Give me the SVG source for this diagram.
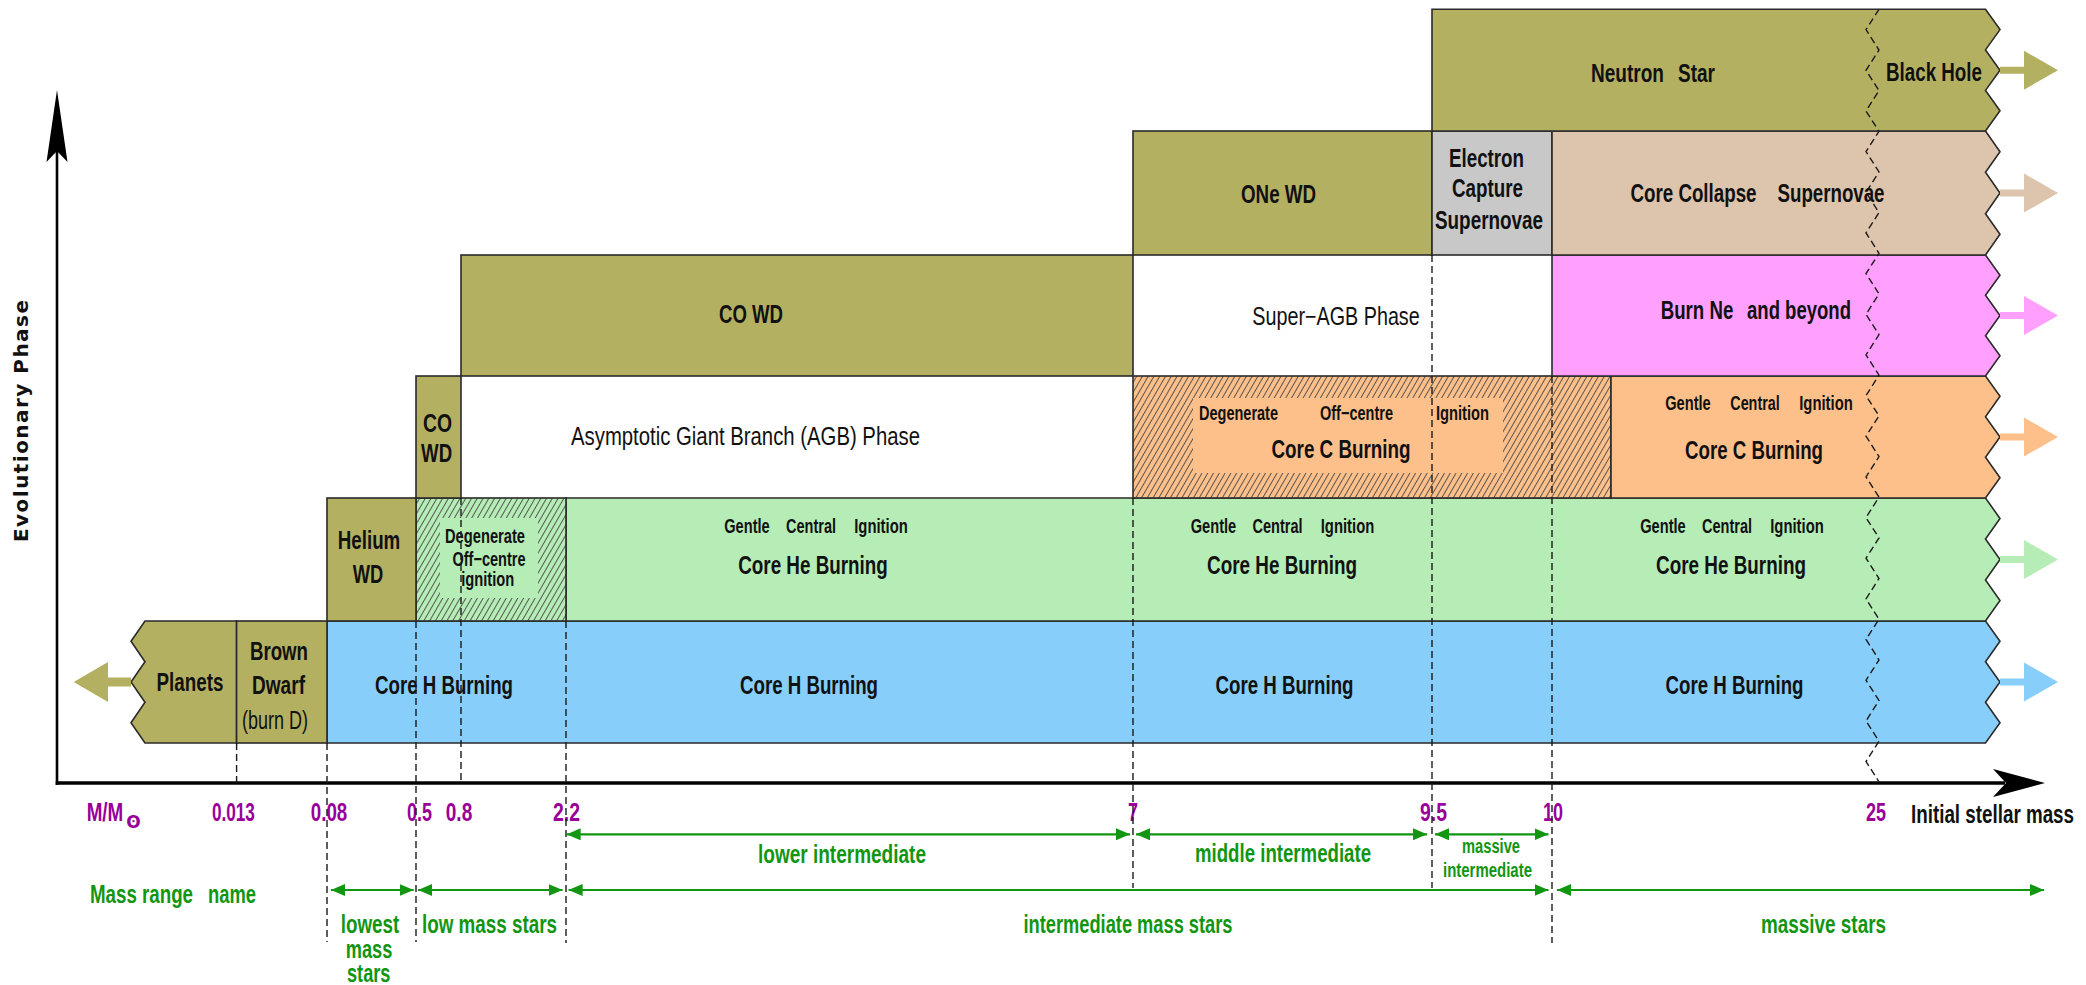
<svg xmlns="http://www.w3.org/2000/svg" width="2086" height="985" viewBox="0 0 2086 985">
<style>
.t{font-family:"Liberation Sans Narrow","Liberation Sans",Arial,sans-serif;font-weight:bold;font-size:25px;fill:#111;text-anchor:middle}
.s{font-size:20px}
.n{font-weight:normal}
.p{fill:#990099}
.g{fill:#129612}
.box{stroke:#2a2a2a;stroke-width:1.6}
.ol{fill:#b4b062}
.dash{stroke:#1a1a1a;stroke-width:1.4;stroke-dasharray:7,4;fill:none}
.garr{stroke:#129612;stroke-width:2.2;fill:none;marker-start:url(#ga);marker-end:url(#ga)}
</style>
<defs>
<pattern id="hatch" patternUnits="userSpaceOnUse" width="5" height="10" patternTransform="rotate(30)">
<line x1="2.5" y1="-1" x2="2.5" y2="11" stroke="#4a4a4a" stroke-width="0.9"/>
</pattern>
<marker id="ga" viewBox="0 0 14 12" refX="14" refY="6" markerWidth="14" markerHeight="12" markerUnits="userSpaceOnUse" orient="auto-start-reverse">
<path d="M0,0 L14,6 L0,12 Z" fill="#129612"/>
</marker>
</defs>
<rect width="2086" height="985" fill="#fff"/>

<g id="band-core-h">
<path class="box" fill="#87cefa" d="M327,621 H1985.5 L2000,641.3 L1985.5,661.7 L2000,682 L1985.5,702.3 L2000,722.7 L1985.5,743 H327 Z"/>
<polygon fill="#87cefa" points="2000,678.5 2024,678.5 2024,662.5 2058,682 2024,701.5 2024,685.5 2000,685.5"/>
<text class="t" x="444" y="694" textLength="138" lengthAdjust="spacingAndGlyphs">Core H Burning</text>
<text class="t" x="809" y="694" textLength="138" lengthAdjust="spacingAndGlyphs">Core H Burning</text>
<text class="t" x="1284.5" y="694" textLength="138" lengthAdjust="spacingAndGlyphs">Core H Burning</text>
<text class="t" x="1734.5" y="694" textLength="138" lengthAdjust="spacingAndGlyphs">Core H Burning</text>
</g>

<g id="band-core-he">
<path class="box" fill="#b6ecb6" d="M566,498 H1985.5 L2000,518.5 L1985.5,539 L2000,559.5 L1985.5,580 L2000,600.5 L1985.5,621 H566 Z"/>
<polygon fill="#b6ecb6" points="2000,556 2024,556 2024,540 2058,559.5 2024,579 2024,563 2000,563"/>
<text class="t s"><tspan x="747" y="532.7" textLength="45.5" lengthAdjust="spacingAndGlyphs">Gentle</tspan><tspan x="811" y="532.7" textLength="50" lengthAdjust="spacingAndGlyphs">Central</tspan><tspan x="881" y="532.7" textLength="53.5" lengthAdjust="spacingAndGlyphs">Ignition</tspan></text>
<text class="t" x="813" y="574.3" textLength="149.5" lengthAdjust="spacingAndGlyphs">Core He Burning</text>
<text class="t s"><tspan x="1213.5" y="532.7" textLength="45.5" lengthAdjust="spacingAndGlyphs">Gentle</tspan><tspan x="1277.5" y="532.7" textLength="50" lengthAdjust="spacingAndGlyphs">Central</tspan><tspan x="1347.5" y="532.7" textLength="53.5" lengthAdjust="spacingAndGlyphs">Ignition</tspan></text>
<text class="t" x="1282" y="574.3" textLength="150" lengthAdjust="spacingAndGlyphs">Core He Burning</text>
<text class="t s"><tspan x="1663" y="532.7" textLength="45.5" lengthAdjust="spacingAndGlyphs">Gentle</tspan><tspan x="1727" y="532.7" textLength="50" lengthAdjust="spacingAndGlyphs">Central</tspan><tspan x="1797" y="532.7" textLength="53.5" lengthAdjust="spacingAndGlyphs">Ignition</tspan></text>
<text class="t" x="1731" y="574.3" textLength="150" lengthAdjust="spacingAndGlyphs">Core He Burning</text>
</g>

<g id="degenerate-he">
<rect x="416" y="498" width="150" height="123" fill="#b6ecb6"/>
<rect x="416" y="498" width="150" height="123" fill="url(#hatch)"/>
<rect x="440" y="518" width="98" height="80" fill="#b6ecb6"/>
<rect class="box" x="416" y="498" width="150" height="123" fill="none"/>
<text class="t s" x="485" y="543.3" textLength="80" lengthAdjust="spacingAndGlyphs">Degenerate</text>
<text class="t s" x="489" y="566" textLength="73" lengthAdjust="spacingAndGlyphs">Off−centre</text>
<text class="t s" x="487.7" y="585.5" textLength="53" lengthAdjust="spacingAndGlyphs">ignition</text>
</g>

<g id="planets">
<path class="box ol" d="M145,621 H236.6 V743 H145 L131,722.7 L145,702.3 L131,682 L145,661.7 L131,641.3 Z"/>
<polygon class="ol" points="131,677.5 108,677.5 108,662 73.7,682 108,702 108,686.5 131,686.5"/>
<text class="t" x="190" y="690.5" textLength="67" lengthAdjust="spacingAndGlyphs">Planets</text>
</g>

<g id="brown-dwarf">
<rect class="box ol" x="236.6" y="621" width="90.4" height="122"/>
<text class="t" x="279" y="659.5" textLength="58" lengthAdjust="spacingAndGlyphs">Brown</text>
<text class="t" x="278.5" y="694" textLength="53" lengthAdjust="spacingAndGlyphs">Dwarf</text>
<text class="t n" x="275" y="729" font-size="23" textLength="66" lengthAdjust="spacingAndGlyphs">(burn D)</text>
</g>

<g id="helium-wd">
<rect class="box ol" x="327" y="498" width="89" height="123"/>
<text class="t" x="369" y="549" textLength="62.5" lengthAdjust="spacingAndGlyphs">Helium</text>
<text class="t" x="368" y="582.5" textLength="30.5" lengthAdjust="spacingAndGlyphs">WD</text>
</g>

<g id="co-wd-small">
<rect class="box ol" x="416" y="376" width="45" height="122"/>
<text class="t" x="437.6" y="431.7" textLength="29" lengthAdjust="spacingAndGlyphs">CO</text>
<text class="t" x="436.6" y="462" textLength="31" lengthAdjust="spacingAndGlyphs">WD</text>
</g>

<g id="agb-phase">
<text class="t n" x="745.5" y="445" font-size="26" textLength="349" lengthAdjust="spacingAndGlyphs">Asymptotic Giant Branch (AGB) Phase</text>
</g>

<g id="co-wd">
<rect class="box ol" x="461" y="255" width="672" height="121"/>
<text class="t" x="751" y="323" textLength="64" lengthAdjust="spacingAndGlyphs">CO WD</text>
</g>

<g id="degenerate-c">
<rect x="1133" y="376" width="478" height="122" fill="#fec08a"/>
<rect x="1133" y="376" width="478" height="122" fill="url(#hatch)"/>
<rect x="1193" y="398" width="310" height="75" fill="#fec08a"/>
<rect class="box" x="1133" y="376" width="478" height="122" fill="none"/>
<text class="t s"><tspan x="1238.5" y="420" textLength="79" lengthAdjust="spacingAndGlyphs">Degenerate</tspan><tspan x="1356.5" y="420" textLength="73" lengthAdjust="spacingAndGlyphs">Off−centre</tspan><tspan x="1462.5" y="420" textLength="53" lengthAdjust="spacingAndGlyphs">Ignition</tspan></text>
<text class="t" x="1341" y="458.3" textLength="139" lengthAdjust="spacingAndGlyphs">Core C Burning</text>
</g>

<g id="core-c">
<path class="box" fill="#fec08a" d="M1611,376 H1985.5 L2000,396.3 L1985.5,416.7 L2000,437 L1985.5,457.3 L2000,477.7 L1985.5,498 H1611 Z"/>
<polygon fill="#fec08a" points="2000,433.5 2024,433.5 2024,417.5 2058,437 2024,456.5 2024,440.5 2000,440.5"/>
<text class="t s"><tspan x="1688" y="410" textLength="45.5" lengthAdjust="spacingAndGlyphs">Gentle</tspan><tspan x="1755" y="410" textLength="49.5" lengthAdjust="spacingAndGlyphs">Central</tspan><tspan x="1826" y="410" textLength="53.5" lengthAdjust="spacingAndGlyphs">Ignition</tspan></text>
<text class="t" x="1754" y="459" textLength="138" lengthAdjust="spacingAndGlyphs">Core C Burning</text>
</g>

<g id="super-agb">
<text class="t n" x="1336" y="325" font-size="26" textLength="167.5" lengthAdjust="spacingAndGlyphs">Super−AGB Phase</text>
</g>

<g id="burn-ne">
<path class="box" fill="#ffa0ff" d="M1552,255 H1985.5 L2000,275.2 L1985.5,295.3 L2000,315.5 L1985.5,335.7 L2000,355.8 L1985.5,376 H1552 Z"/>
<polygon fill="#ffa0ff" points="2000,312 2024,312 2024,296 2058,315.5 2024,335 2024,319 2000,319"/>
<text class="t"><tspan x="1697" y="319.3" textLength="72.5" lengthAdjust="spacingAndGlyphs">Burn Ne</tspan><tspan x="1799" y="319.3" textLength="104" lengthAdjust="spacingAndGlyphs">and beyond</tspan></text>
</g>

<g id="one-wd">
<rect class="box ol" x="1133" y="131" width="299" height="124"/>
<text class="t" x="1278.5" y="202.5" textLength="75" lengthAdjust="spacingAndGlyphs">ONe WD</text>
</g>

<g id="electron-capture">
<rect class="box" x="1432" y="131" width="120" height="124" fill="#c8c8c8"/>
<text class="t"><tspan x="1486.5" y="166.7" textLength="75" lengthAdjust="spacingAndGlyphs">Electron</tspan><tspan x="1487.5" y="197.3" textLength="71" lengthAdjust="spacingAndGlyphs">Capture</tspan><tspan x="1489" y="229.3" textLength="108" lengthAdjust="spacingAndGlyphs">Supernovae</tspan></text>
</g>

<g id="core-collapse">
<path class="box" fill="#dcc4ad" d="M1552,131 H1985.5 L2000,151.7 L1985.5,172.3 L2000,193 L1985.5,213.7 L2000,234.3 L1985.5,255 H1552 Z"/>
<polygon fill="#dcc4ad" points="2000,189.5 2024,189.5 2024,173.5 2058,193 2024,212.5 2024,196.5 2000,196.5"/>
<text class="t"><tspan x="1693.5" y="201.7" textLength="126" lengthAdjust="spacingAndGlyphs">Core Collapse</tspan><tspan x="1831" y="201.7" textLength="107" lengthAdjust="spacingAndGlyphs">Supernovae</tspan></text>
</g>

<g id="neutron-star">
<path class="box ol" d="M1432,9.3 H1985.5 L2000,29.6 L1985.5,49.9 L2000,70.2 L1985.5,90.4 L2000,110.7 L1985.5,131 H1432 Z"/>
<polygon class="ol" points="2000,66.7 2024,66.7 2024,50.7 2058,70.2 2024,89.7 2024,73.7 2000,73.7"/>
<text class="t"><tspan x="1627.5" y="81.7" textLength="73" lengthAdjust="spacingAndGlyphs">Neutron</tspan><tspan x="1696.5" y="81.7" textLength="37" lengthAdjust="spacingAndGlyphs">Star</tspan></text>
<text class="t" x="1934" y="81" textLength="96" lengthAdjust="spacingAndGlyphs">Black Hole</text>
</g>

<g id="labels">
<text font-family="DejaVu Sans,Liberation Sans,sans-serif" font-weight="bold" font-size="20" fill="#111" text-anchor="middle" transform="translate(28,421) rotate(-90)" textLength="242" lengthAdjust="spacing">Evolutionary Phase</text>
<text class="t" x="1992.5" y="822.7" textLength="163" lengthAdjust="spacingAndGlyphs">Initial stellar mass</text>
<text class="t p" x="86.7" y="820.7" font-size="24" style="text-anchor:start"><tspan textLength="36.6" lengthAdjust="spacingAndGlyphs">M/M</tspan><tspan dx="3" dy="7" font-size="17" font-family="DejaVu Sans,sans-serif">ʘ</tspan></text>
<text class="t p" x="233.4" y="820.7" font-size="24" textLength="43" lengthAdjust="spacingAndGlyphs">0.013</text>
<text class="t p" x="329" y="820.7" font-size="24" textLength="36.5" lengthAdjust="spacingAndGlyphs">0.08</text>
<text class="t p" x="419.5" y="820.7" font-size="24" textLength="25" lengthAdjust="spacingAndGlyphs">0.5</text>
<text class="t p" x="459" y="820.7" font-size="24" textLength="26.5" lengthAdjust="spacingAndGlyphs">0.8</text>
<text class="t p" x="566.5" y="820.7" font-size="24" textLength="27" lengthAdjust="spacingAndGlyphs">2.2</text>
<text class="t p" x="1133" y="820.7" font-size="24" textLength="10" lengthAdjust="spacingAndGlyphs">7</text>
<text class="t p" x="1433.5" y="820.7" font-size="24" textLength="27" lengthAdjust="spacingAndGlyphs">9.5</text>
<text class="t p" x="1553" y="820.7" font-size="24" textLength="20" lengthAdjust="spacingAndGlyphs">10</text>
<text class="t p" x="1876" y="820.7" font-size="24" textLength="20" lengthAdjust="spacingAndGlyphs">25</text>
<text class="t g" x="842" y="863" font-size="24" textLength="168" lengthAdjust="spacingAndGlyphs">lower intermediate</text>
<text class="t g" x="1283" y="862" font-size="24" textLength="176" lengthAdjust="spacingAndGlyphs">middle intermediate</text>
<text class="t g s" x="1491" y="853" textLength="58" lengthAdjust="spacingAndGlyphs">massive</text>
<text class="t g s" x="1487.5" y="876.7" textLength="89" lengthAdjust="spacingAndGlyphs">intermediate</text>
<text class="t g" font-size="24"><tspan x="141.5" y="902.7" textLength="103" lengthAdjust="spacingAndGlyphs">Mass range</tspan><tspan x="232" y="902.7" textLength="48" lengthAdjust="spacingAndGlyphs">name</tspan></text>
<text class="t g" font-size="24"><tspan x="370" y="933.3" textLength="58.4" lengthAdjust="spacingAndGlyphs">lowest</tspan><tspan x="369" y="958" textLength="46.6" lengthAdjust="spacingAndGlyphs">mass</tspan><tspan x="368.7" y="982" textLength="43.4" lengthAdjust="spacingAndGlyphs">stars</tspan></text>
<text class="t g" x="489.5" y="933" font-size="24" textLength="135" lengthAdjust="spacingAndGlyphs">low mass stars</text>
<text class="t g" x="1128" y="932.7" font-size="24" textLength="209" lengthAdjust="spacingAndGlyphs">intermediate mass stars</text>
<text class="t g" x="1823.5" y="932.7" font-size="24" textLength="125" lengthAdjust="spacingAndGlyphs">massive stars</text>
</g>

<g id="connectors">
<line x1="57" y1="785" x2="57" y2="150" stroke="#000" stroke-width="2.6"/>
<polygon points="57,90 67.5,162 57,151 46.5,162" fill="#000"/>
<line x1="55.7" y1="783" x2="2005" y2="783" stroke="#000" stroke-width="3.6"/>
<polygon points="2045,783 1993,769 2006,783 1993,797" fill="#000"/>
<path class="dash" d="M236.6,743 V783 M327,743 V942 M416,621 V942 M461,498 V783 M566,621 V943 M1133,498 V888 M1432,255 V376 M1432,376 V888 M1552,376 V943"/>
<polyline class="dash" stroke-dasharray="6,4" points="1879,9.3 1866,29.6 1879,50 1866,70.3 1879,90.6 1866,111 1879,131.3 1866,151.6 1879,171.9 1866,192.3 1879,212.6 1866,232.9 1879,253.3 1866,273.6 1879,293.9 1866,314.3 1879,334.6 1866,354.9 1879,375.2 1866,395.6 1879,415.9 1866,436.2 1879,456.6 1866,476.9 1879,497.2 1866,517.6 1879,537.9 1866,558.2 1879,578.5 1866,598.9 1879,619.2 1866,639.5 1879,659.9 1866,680.2 1879,700.5 1866,720.9 1879,741.2 1866,761.5 1879,781.8"/>
<line class="garr" x1="566.6" y1="834.3" x2="1130" y2="834.3"/>
<line class="garr" x1="1136" y1="834.3" x2="1427" y2="834.3"/>
<line class="garr" x1="1435" y1="834.3" x2="1548.5" y2="834.3"/>
<line class="garr" x1="331" y1="890" x2="413.7" y2="890"/>
<line class="garr" x1="418" y1="890" x2="562.6" y2="890"/>
<line class="garr" x1="568.6" y1="890" x2="1548.5" y2="890"/>
<line class="garr" x1="1557" y1="890" x2="2044" y2="890"/>
</g>
</svg>
